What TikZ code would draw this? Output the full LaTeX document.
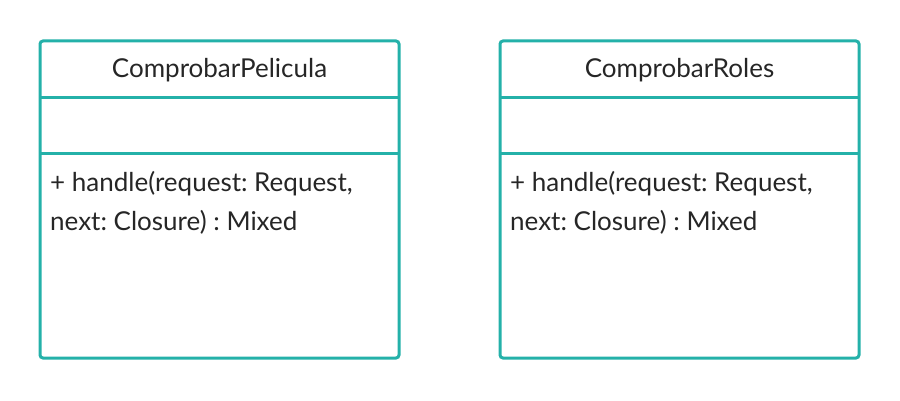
\documentclass[tikz,border=0pt]{standalone}
\usepackage{fontspec}
\setmainfont{Lato}
\frenchspacing
\definecolor{umlteal}{RGB}{36,177,169}
\tikzset{
  classbox/.style={draw=umlteal, line width=3pt, rounded corners=3pt},
  classline/.style={draw=umlteal, line width=3pt},
  classtext/.style={font=\fontsize{26}{39}\selectfont, text=black!85, inner sep=0pt},
}
\begin{document}
\begin{tikzpicture}[x=1pt,y=-1pt]
\useasboundingbox (0,0) rectangle (900,401);
\def\names{{"ComprobarPelicula","ComprobarRoles"}}
\foreach \i in {0,1} {
    \pgfmathsetmacro{\xl}{40+\i*460}
    \pgfmathsetmacro{\lbl}{\names[\i]}
    % class frame and compartments
    \draw[classbox] (\xl,41) rectangle (\xl+359,358);
    \draw[classline] (\xl,98) -- (\xl+359,98);
    \draw[classline] (\xl,154) -- (\xl+359,154);
    \node[classtext] (title\i) at (\xl+179.5,70) {\lbl};
    \node[classtext, anchor=north west, align=left] (oper\i) at (\xl+10,171)
        {+ handle(request: Request,\\next: Closure) : Mixed};
}
\end{tikzpicture}
\end{document}
